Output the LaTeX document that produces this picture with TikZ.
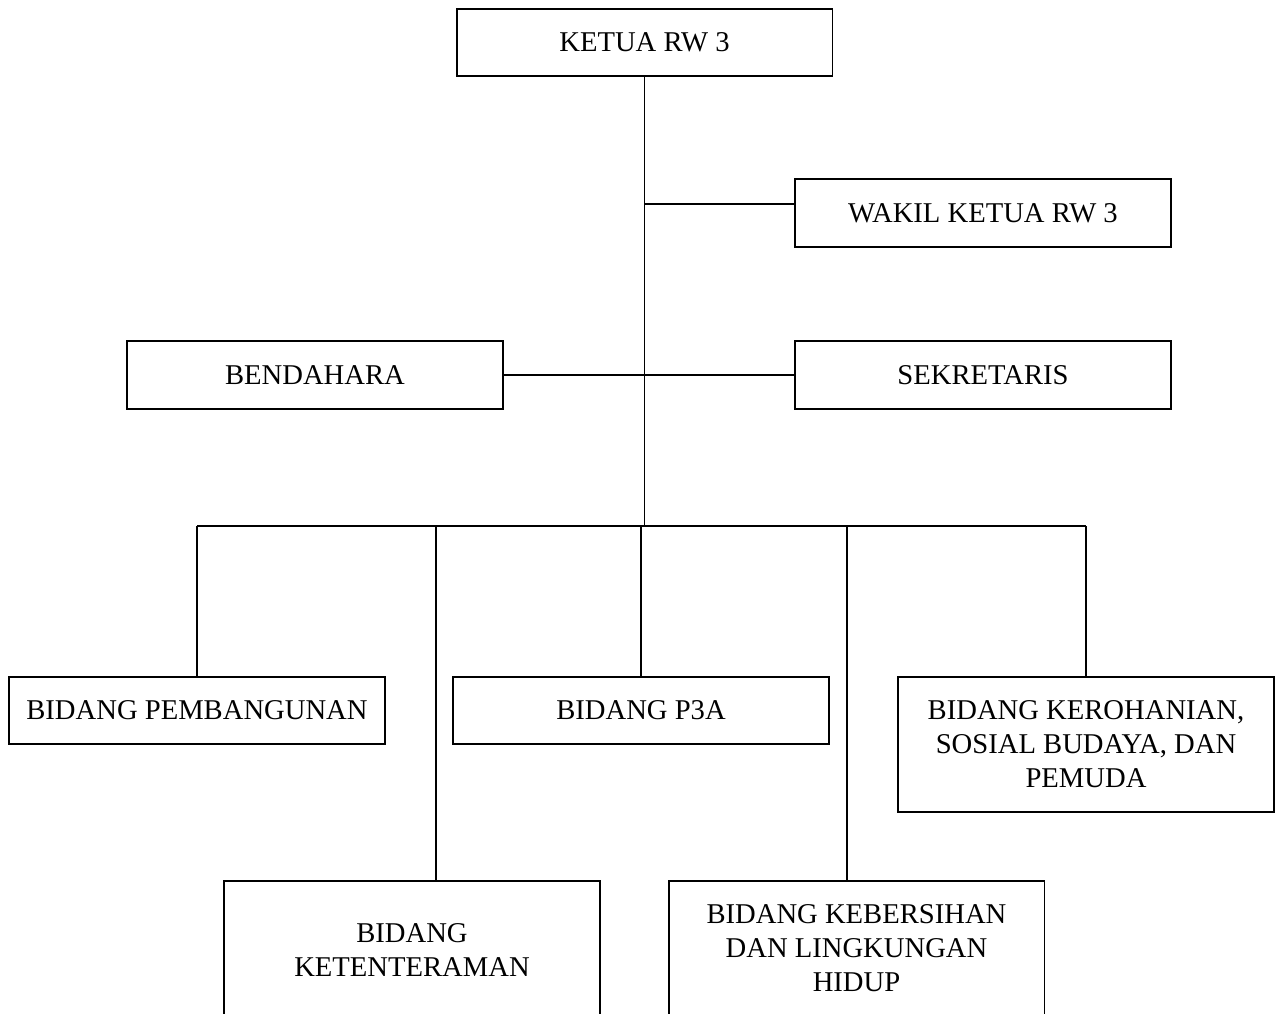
\documentclass[tikz,border=0pt]{standalone}
\usepackage{fontspec}
\setmainfont{Liberation Serif}

\begin{document}
\begin{tikzpicture}[x=0.02cm,y=-0.02cm,-,line width=1.1pt,box node/.style={rectangle,draw,inner sep=0pt,minimum width=7.52cm,minimum height=1.35cm,align=center,font=\fontsize{16.3}{19.4}\selectfont}]

            \useasboundingbox (0,0) rectangle (1275,1014);

            \node[box node] (ketua) at (644.5,42.5) {KETUA RW 3};
            \node[box node] (wakil) at (983,213) {WAKIL KETUA RW 3};
            \node[box node] (bendahara) at (315,375) {BENDAHARA};
            \node[box node] (sekretaris) at (983,375) {SEKRETARIS};

            \node[box node] (pembangunan) at (197,710.5) {BIDANG PEMBANGUNAN};
            \node[box node] (p3a) at (641,710.5) {BIDANG P3A};
            \node[box node, minimum height=2.7cm] (kerohanian) at (1086,744.5) {BIDANG KEROHANIAN,\\SOSIAL BUDAYA, DAN\\PEMUDA};
            \node[box node, minimum height=2.76cm] (ketenteraman) at (412,950) {BIDANG\\KETENTERAMAN};
            \node[box node, minimum height=2.7cm] (kebersihan) at (856.5,948.5) {BIDANG KEBERSIHAN\\DAN LINGKUNGAN\\HIDUP};

            \coordinate (bus) at (643,526);
            \coordinate (wj) at ([yshift=0.18cm]wakil.west);
            \coordinate (b2) at (436,526);
            \coordinate (b4) at (847,526);

            \draw (ketua.south) to (ketua.south |- bus);
            \draw (wj) to (wj -| ketua.south);
            \draw (bendahara.east) to (sekretaris.west);
            \draw (pembangunan.north |- bus) to (kerohanian.north |- bus);

            \draw (pembangunan.north) to (pembangunan.north |- bus);
            \draw (p3a.north) to (p3a.north |- bus);
            \draw (kerohanian.north) to (kerohanian.north |- bus);
            \draw (b2) to (b2 |- ketenteraman.north);
            \draw (b4) to (b4 |- kebersihan.north);

        \end{tikzpicture}
\end{document}
